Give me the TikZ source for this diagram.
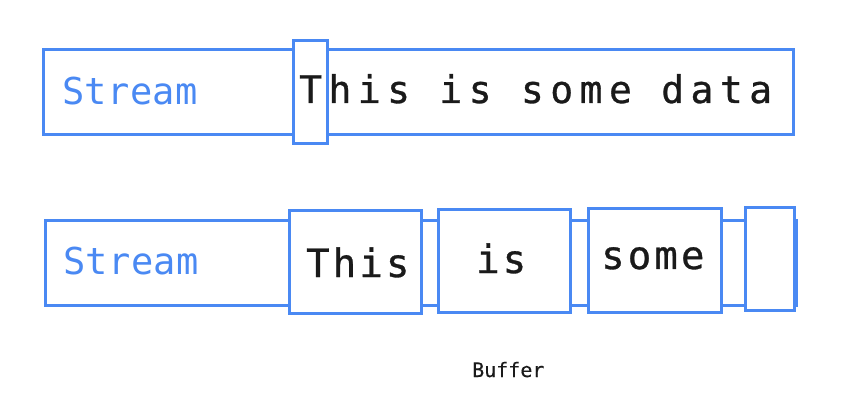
\documentclass[tikz,border=0pt]{standalone}
\usepackage{fontspec}
\newfontfamily\monoA[LetterSpace=17,FakeBold=0.8]{DejaVu Sans Mono}
\newfontfamily\monoB[LetterSpace=8,FakeBold=0.8]{DejaVu Sans Mono}
\newfontfamily\monoS[LetterSpace=1]{DejaVu Sans Mono}
\newfontfamily\monoC[FakeBold=0.4]{DejaVu Sans Mono}
\definecolor{gblue}{HTML}{4A89F3}
\definecolor{ink}{HTML}{1A1A1A}
\tikzset{
  x=1pt,y=-1pt,
  blbox/.style={draw=gblue, line width=3pt, fill=white, inner sep=0pt, outer sep=0pt, anchor=north west},
  streamtxt/.style={text=gblue, inner sep=0pt, anchor=base west, font=\monoS\fontsize{37}{40}\selectfont},
  bigtxt/.style={text=ink, inner sep=0pt, anchor=base west, font=\monoA\fontsize{38}{42}\selectfont},
  wordtxt/.style={text=ink, inner sep=0pt, anchor=base west, font=\monoB\fontsize{39}{42}\selectfont},
  smalltxt/.style={text=ink, inner sep=0pt, anchor=base west, font=\monoC\fontsize{20}{23}\selectfont},
}
\begin{document}
\begin{tikzpicture}
\useasboundingbox (0,0) rectangle (846,406);
% top row
\node (s1) [blbox, minimum width=750, minimum height=85] at (43,50) {};
\node (p1) [blbox, minimum width=34, minimum height=103] at (293,41) {};
\node (st1) [streamtxt] at (62,105) {Stream};
\node (d1) [bigtxt] at (299,103) {This is some data};
% bottom row
\node (s2) [blbox, minimum width=751, minimum height=84] at (45,221) {};
\node (b1) [blbox, minimum width=132, minimum height=102] at (289,211) {};
\node (b2) [blbox, minimum width=132, minimum height=102] at (438,210) {};
\node (b3) [blbox, minimum width=133, minimum height=103] at (588,209) {};
\node (b4) [blbox, minimum width=49, minimum height=102] at (745,208) {};
\node (st2) [streamtxt] at (63,274) {Stream};
\node (w1) [wordtxt] at (306,277) {This};
\node (w2) [wordtxt] at (476,273) {is};
\node (w3) [wordtxt] at (601,269) {some};
\node (buf) [smalltxt] at (472,377) {Buffer};
\end{tikzpicture}
\end{document}
